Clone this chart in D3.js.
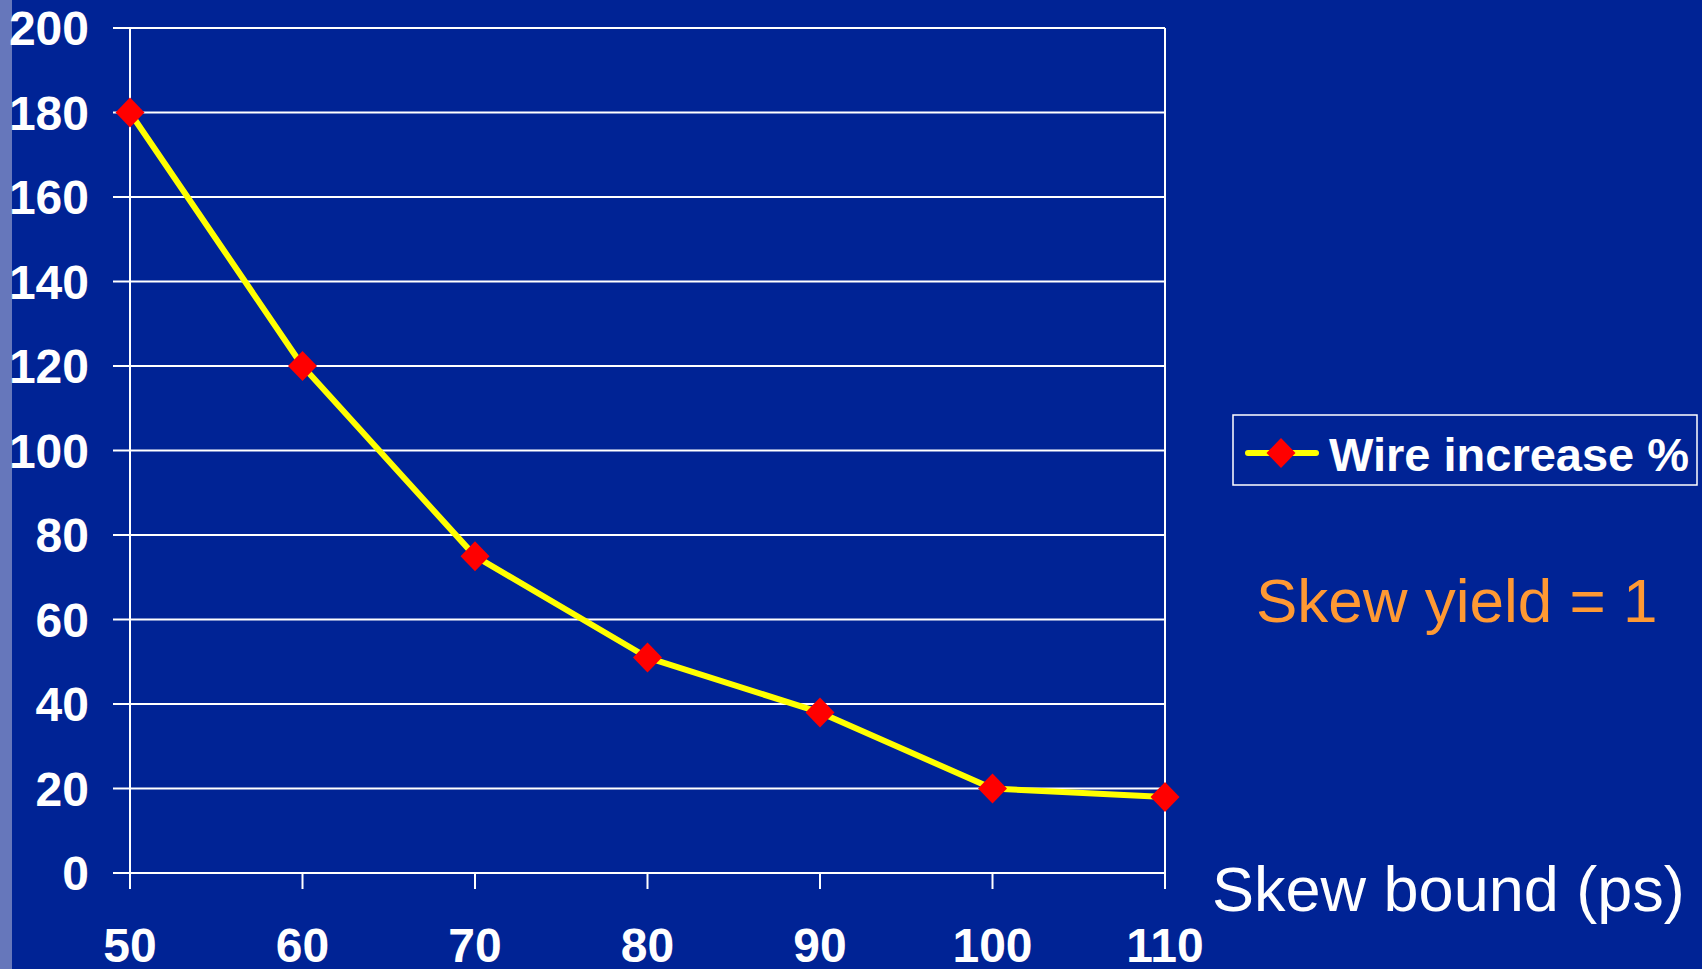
<!DOCTYPE html>
<html>
<head>
<meta charset="utf-8">
<script src="https://cdn.jsdelivr.net/npm/d3@7"></script>
<style>
  html, body { margin: 0; padding: 0; background: #002395; overflow: hidden; }
  svg { display: block; }
  text { font-family: "Liberation Sans", Arial, Helvetica, sans-serif; }
</style>
</head>
<body>
<script>
// ---- data ----
const skewBounds = [50, 60, 70, 80, 90, 100, 110];
const wireIncrease = [180, 120, 75, 51, 38, 20, 18];
const yTicks = [0, 20, 40, 60, 80, 100, 120, 140, 160, 180, 200];
const seriesName = "Wire increase %";
const xTitle = "Skew bound (ps)";
const note = "Skew yield = 1";

const W = 1702, H = 969;
const svg = d3.select("body").append("svg").attr("width", W).attr("height", H);

svg.append("rect").attr("width", W).attr("height", H).attr("fill", "#002395");
svg.append("rect").attr("x", 0).attr("y", 0).attr("width", 12).attr("height", H).attr("fill", "#6677BB");

const x = d3.scaleLinear().domain([50, 110]).range([130, 1165]);
const y = d3.scaleLinear().domain([0, 200]).range([873, 28]);

// gridlines
svg.append("g").selectAll("line").data(yTicks).join("line")
  .attr("x1", 113).attr("x2", x(110))
  .attr("y1", d => y(d)).attr("y2", d => y(d))
  .attr("stroke", "#ffffff").attr("stroke-width", 2);

// right border
svg.append("line").attr("x1", x(110)).attr("x2", x(110))
  .attr("y1", y(200)).attr("y2", 889)
  .attr("stroke", "#ffffff").attr("stroke-width", 2);

// left axis line
svg.append("line").attr("x1", x(50)).attr("x2", x(50))
  .attr("y1", y(200)).attr("y2", 889)
  .attr("stroke", "#ffffff").attr("stroke-width", 2);

// x tick marks
svg.append("g").selectAll("line").data(skewBounds).join("line")
  .attr("x1", d => x(d)).attr("x2", d => x(d))
  .attr("y1", y(0)).attr("y2", 889)
  .attr("stroke", "#ffffff").attr("stroke-width", 2);

// y tick labels
svg.append("g").selectAll("text").data(yTicks).join("text")
  .attr("x", 89).attr("y", d => y(d) + 17)
  .attr("text-anchor", "end")
  .attr("font-size", 48).attr("font-weight", "bold").attr("fill", "#ffffff")
  .text(d => d);

// x tick labels
svg.append("g").selectAll("text").data(skewBounds).join("text")
  .attr("x", d => x(d)).attr("y", 962)
  .attr("text-anchor", "middle")
  .attr("font-size", 48).attr("font-weight", "bold").attr("fill", "#ffffff")
  .text(d => d);

// line
const pts = skewBounds.map((d, i) => [d, wireIncrease[i]]);
svg.append("path").datum(pts)
  .attr("d", d3.line().x(d => x(d[0])).y(d => y(d[1])))
  .attr("fill", "none").attr("stroke", "#ffff00").attr("stroke-width", 6)
  .attr("stroke-linejoin", "round");

// markers
const diamond = (cx, cy) => `M${cx},${cy - 15}L${cx + 14.5},${cy}L${cx},${cy + 15}L${cx - 14.5},${cy}Z`;
svg.append("g").selectAll("path").data(pts).join("path")
  .attr("d", d => diamond(x(d[0]), y(d[1])))
  .attr("fill", "#ff0000");

// legend
svg.append("rect").attr("x", 1233).attr("y", 415).attr("width", 464).attr("height", 70)
  .attr("fill", "none").attr("stroke", "#ffffff").attr("stroke-width", 1.5);
svg.append("line").attr("x1", 1248).attr("x2", 1316).attr("y1", 453).attr("y2", 453)
  .attr("stroke", "#ffff00").attr("stroke-width", 6).attr("stroke-linecap", "round");
svg.append("path").attr("d", diamond(1281, 453)).attr("fill", "#ff0000");
svg.append("text").attr("x", 1329).attr("y", 471)
  .attr("font-size", 47).attr("font-weight", "bold").attr("fill", "#ffffff")
  .text(seriesName);

// note
svg.append("text").attr("x", 1256).attr("y", 622)
  .attr("font-size", 62).attr("fill", "#FF9933")
  .text(note);

// x title
svg.append("text").attr("x", 1212).attr("y", 911)
  .attr("font-size", 63).attr("fill", "#ffffff")
  .text(xTitle);
</script>
</body>
</html>
